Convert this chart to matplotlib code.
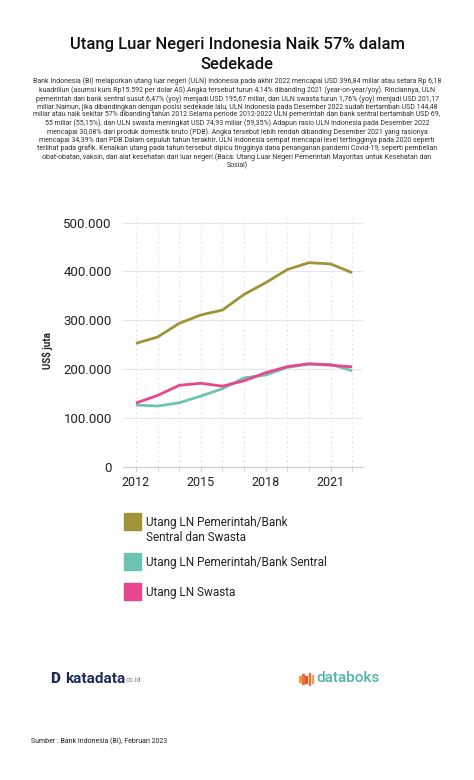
import numpy as np
import matplotlib.pyplot as plt
from matplotlib.patches import Rectangle

plt.rcParams['font.family'] = ['Roboto', 'DejaVu Sans']

years = [2012, 2013, 2014, 2015, 2016, 2017, 2018, 2019, 2020, 2021, 2022]
total = [252700, 265700, 293700, 311000, 321000, 353000, 377000, 404000, 418000, 415500, 397500]
pemerintah = [126400, 124300, 131000, 144800, 159800, 182000, 187800, 203600, 210000, 210000, 196500]
swasta = [130500, 146000, 166700, 171000, 165000, 176000, 192600, 205000, 211000, 208000, 204500]

series = [total, pemerintah, swasta]
labels = ["Utang LN Pemerintah/Bank\nSentral dan Swasta",
          "Utang LN Pemerintah/Bank Sentral",
          "Utang LN Swasta"]
colors = ["#A09436", "#6CC4B0", "#E8468E"]

yticks = [0, 100000, 200000, 300000, 400000, 500000]
ytick_labels = ["0", "100.000", "200.000", "300.000", "400.000", "500.000"]
xticks = [2012, 2015, 2018, 2021]

title = "Utang Luar Negeri Indonesia Naik 57% dalam\nSedekade"
desc = ("Bank Indonesia (BI) melaporkan utang luar negeri (ULN) Indonesia pada akhir 2022 mencapai USD 396,84 miliar atau setara Rp 6,18\n"
        "kuadriliun (asumsi kurs Rp15.592 per dolar AS).Angka tersebut turun 4,14% dibanding 2021 (year-on-year/yoy). Rinciannya, ULN\n"
        "pemerintah dan bank sentral susut 6,47% (yoy) menjadi USD 195,67 miliar, dan ULN swasta turun 1,76% (yoy) menjadi USD 201,17\n"
        "miliar.Namun, jika dibandingkan dengan posisi sedekade lalu, ULN Indonesia pada Desember 2022 sudah bertambah USD 144,48\n"
        "miliar atau naik sekitar 57% dibanding tahun 2012.Selama periode 2012-2022 ULN pemerintah dan bank sentral bertambah USD 69,\n"
        "55 miliar (55,15%), dan ULN swasta meningkat USD 74,93 miliar (59,35%).Adapun rasio ULN Indonesia pada Desember 2022\n"
        "mencapai 30,08% dari produk domestik bruto (PDB). Angka tersebut lebih rendah dibanding Desember 2021 yang rasionya\n"
        "mencapai 34,39% dari PDB.Dalam sepuluh tahun terakhir, ULN Indonesia sempat mencapai level tertingginya pada 2020 seperti\n"
        "terlihat pada grafik. Kenaikan utang pada tahun tersebut dipicu tingginya dana penanganan pandemi Covid-19, seperti pembelian\n"
        "obat-obatan, vaksin, dan alat kesehatan dari luar negeri.(Baca: Utang Luar Negeri Pemerintah Mayoritas untuk Kesehatan dan\n"
        "Sosial)")
source = "Sumber : Bank Indonesia (BI), Februari 2023"

W, H = 474, 780
fig = plt.figure(figsize=(W / 100, H / 100), dpi=100)
fig.patch.set_facecolor("white")

def fx(px):
    return px / W

def fy(py):
    return 1 - py / H

fig.text(0.5, fy(54.5), title, ha="center", va="center", fontsize=12,
         fontweight="medium", color="#111111", linespacing=1.35)
fig.text(0.5, fy(123.5), desc, ha="center", va="center", fontsize=5.05,
         color="#333333", linespacing=1.14)

ax = fig.add_axes([fx(123), fy(466.7), fx(363) - fx(123), (466.7 - 217.8) / H])
for s, c in zip(series, colors):
    ax.plot(years, s, color=c, lw=2.0, solid_capstyle="butt", zorder=3)

ax.set_xlim(2011.4, 2022.5)
ax.set_ylim(0, 510000)
ax.set_yticks(yticks)
ax.set_yticklabels(ytick_labels)
ax.set_xticks(xticks)
ax.set_xticks(years, minor=True)
ax.tick_params(axis="y", length=0, labelsize=9.5, labelcolor="#222222", pad=8)
ax.tick_params(axis="x", which="both", length=3, color="#cccccc", labelsize=9,
               labelcolor="#222222", pad=4)
ax.grid(axis="y", color="#e6e6e6", lw=0.8)
ax.grid(axis="x", which="both", color="#e3e3e3", lw=0.7, ls=(0, (2, 3)))
for sp in ["top", "right", "left"]:
    ax.spines[sp].set_visible(False)
ax.spines["bottom"].set_color("#cccccc")
ax.set_ylabel("US$ juta", fontsize=7, fontweight="bold", color="#222222")
ax.yaxis.set_label_coords((53 - 123) / 240, 0.465)

# legend
sq_top = [513, 553, 583]
for top, lab, c in zip(sq_top, labels, colors):
    fig.add_artist(Rectangle((fx(124), fy(top + 17)), fx(17), 17 / H, color=c,
                             transform=fig.transFigure))
    fig.text(fx(146), fy(top + 3), lab, ha="left", va="top", fontsize=8.5,
             color="#222222", linespacing=1.2)

# logos
fig.text(fx(50), fy(679), "D", ha="left", va="center", fontsize=11,
         fontweight="black", color="#1c2a5a")
fig.text(fx(65), fy(679), "katadata", ha="left", va="center", fontsize=11,
         fontweight="bold", color="#1c2a5a")
fig.text(fx(126), fy(681), "co.id", ha="left", va="center", fontsize=5,
         color="#7a8090")
bar_h = [6, 10, 7, 12, 8]
bar_c = ["#f0a04b", "#e8743b", "#e35a3a", "#e8743b", "#f0a04b"]
for i, (h, c) in enumerate(zip(bar_h, bar_c)):
    fig.add_artist(Rectangle((fx(299 + i * 3.2), fy(679 + h / 2)), fx(1.6), h / H,
                             color=c, transform=fig.transFigure))
fig.text(fx(316), fy(678), "databoks", ha="left", va="center", fontsize=11,
         fontweight="medium", color="#4fb3a8")

fig.text(fx(31), fy(741), source, ha="left", va="center", fontsize=5,
         color="#222222")

fig.savefig("out.png", dpi=100, facecolor="white")
